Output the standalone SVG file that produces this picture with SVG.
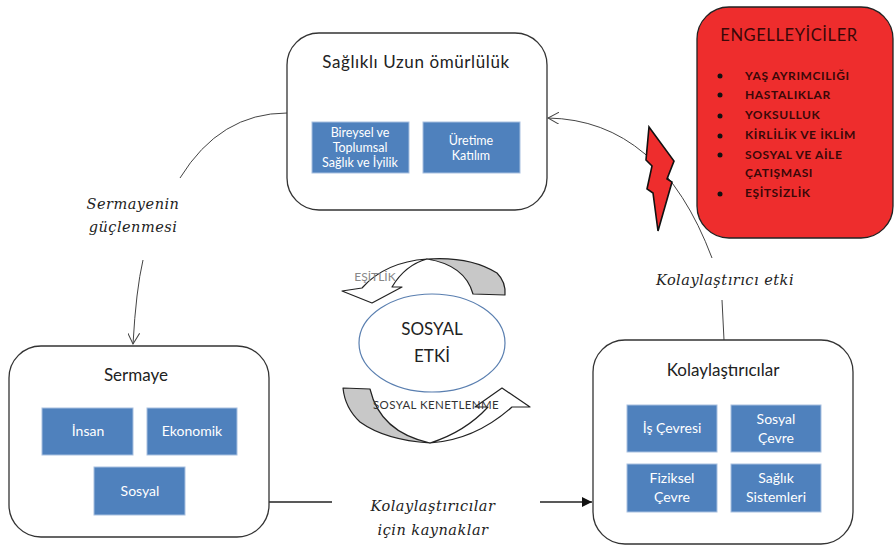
<svg xmlns="http://www.w3.org/2000/svg" width="895" height="547" viewBox="0 0 895 547">
<defs>
<style>
.big{fill:#fff;stroke:#333;stroke-width:1.3}
.blue{fill:#4F81BD;stroke:#a8c0e0;stroke-width:1}
.title{font-family:Lato,"Open Sans",sans-serif;font-size:17px;fill:#222;text-anchor:middle}
.bt{font-family:Lato,"Open Sans",sans-serif;font-size:14px;fill:#fff;text-anchor:middle}
.bts{font-family:Lato,"Open Sans",sans-serif;font-size:12.5px;fill:#fff;text-anchor:middle}
.lbl{font-family:"DejaVu Serif","Liberation Serif",serif;font-style:italic;font-size:14.5px;fill:#222;text-anchor:middle}
.conn{fill:none;stroke:#444;stroke-width:1}
.item{font-family:Lato,"Open Sans",sans-serif;font-weight:bold;font-size:12px;letter-spacing:0.6px;fill:#3a0808}
.arr{stroke:#222;stroke-width:1.2;stroke-linejoin:round}
</style>
<marker id="open" viewBox="0 0 12 12" refX="11" refY="6" markerWidth="12" markerHeight="12" markerUnits="userSpaceOnUse" orient="auto">
<path d="M0,0 L11,6 L0,12" fill="none" stroke="#444" stroke-width="1"/>
</marker>
<marker id="solid" viewBox="0 0 10 10" refX="10" refY="5" markerWidth="10" markerHeight="10" markerUnits="userSpaceOnUse" orient="auto">
<path d="M0,0 L10,5 L0,10 Z" fill="#111"/>
</marker>
</defs>
<rect width="895" height="547" fill="#fff"/>

<g id="connectors">
<path class="conn" d="M287,113 Q220,113 180,178"/>
<path class="conn" d="M143,260 Q136,290 133,344" marker-end="url(#open)"/>
<path class="conn" d="M712,258 Q660,120 548,118" marker-end="url(#open)"/>
<path class="conn" d="M724,340 L722,300"/>
<path d="M269,502 L332,502" stroke="#222" stroke-width="1.3"/>
<path d="M540,502 L592,502" stroke="#222" stroke-width="1.3" marker-end="url(#solid)"/>
</g>

<g id="label-sermayenin">
<text class="lbl" x="133" y="209" letter-spacing="0.5">Sermayenin</text>
<text class="lbl" x="133" y="232" letter-spacing="0.5">güçlenmesi</text>
</g>
<g id="label-kolay-etki">
<text class="lbl" x="725" y="285" letter-spacing="0.5">Kolaylaştırıcı etki</text>
</g>
<g id="label-kaynaklar">
<text class="lbl" x="433" y="511" letter-spacing="0.5">Kolaylaştırıcılar</text>
<text class="lbl" x="433" y="535" letter-spacing="0.5">için kaynaklar</text>
</g>

<g id="node-saglikli">
<rect class="big" x="287" y="33" width="260" height="177" rx="32"/>
<text class="title" x="416" y="68" letter-spacing="0.6">Sağlıklı Uzun ömürlülük</text>
<rect class="blue" x="312" y="122" width="97" height="51"/>
<text class="bts" x="360" y="137">Bireysel ve</text>
<text class="bts" x="360" y="152">Toplumsal</text>
<text class="bts" x="360" y="167">Sağlık ve İyilik</text>
<rect class="blue" x="423" y="122" width="97" height="51"/>
<text class="bts" x="471" y="145">Üretime</text>
<text class="bts" x="471" y="160">Katılım</text>
</g>

<g id="node-engelleyiciler">
<rect x="697" y="7" width="196" height="231" rx="32" fill="#EE2D2D" stroke="#222" stroke-width="1.3"/>
<text x="789" y="41" font-family="Lato,'Open Sans',sans-serif" font-size="16.5" fill="#3a0808" text-anchor="middle" letter-spacing="0.6">ENGELLEYİCİLER</text>
<g fill="#111">
<circle cx="720" cy="76" r="2.5"/><circle cx="720" cy="95" r="2.5"/><circle cx="720" cy="116" r="2.5"/>
<circle cx="720" cy="136" r="2.5"/><circle cx="720" cy="155" r="2.5"/><circle cx="720" cy="194" r="2.5"/>
</g>
<text class="item" x="745" y="80">YAŞ AYRIMCILIĞI</text>
<text class="item" x="745" y="99">HASTALIKLAR</text>
<text class="item" x="745" y="119">YOKSULLUK</text>
<text class="item" x="745" y="139">KİRLİLİK VE İKLİM</text>
<text class="item" x="745" y="159">SOSYAL VE AİLE</text>
<text class="item" x="745" y="177">ÇATIŞMASI</text>
<text class="item" x="745" y="197">EŞİTSİZLİK</text>
</g>

<g id="lightning">
<path d="M649,127 L674,161 L667,179 L672,182 L658,231 L653,193 L647,189 L652,166 L646,160 Z" fill="#EE2D2D" stroke="#111" stroke-width="1.6" stroke-linejoin="miter"/>
</g>

<g id="node-sosyal-etki">
<ellipse cx="432" cy="343" rx="73" ry="49" fill="#fff" stroke="#5a7fb0" stroke-width="1.2"/>
<text class="title" x="432" y="335" font-size="16">SOSYAL</text>
<text class="title" x="432" y="362" font-size="16">ETKİ</text>
</g>

<g id="arrow-esitlik">
<path class="arr" fill="#c8c8c8" d="M427,259 Q470,256 497,273 Q506,282 505,295 L473,294 Q465,265 427,259 Z"/>
<path class="arr" fill="#fff" d="M427,259 Q385,262 362,288 L342,291 L372,303 L402,287 L392,287 Q405,265 427,259 Z"/>
<text x="375" y="281" font-family="Lato,'Open Sans',sans-serif" font-size="12" fill="#888" text-anchor="middle">EŞİTLİK</text>
</g>

<g id="arrow-kenetlenme">
<path class="arr" fill="#c8c8c8" d="M343,388 L370,389 Q380,432 430,443 Q385,440 360,422 Q345,408 343,388 Z"/>
<path class="arr" fill="#fff" d="M430,443 Q475,440 512,407 L530,407 L502,388 L475,407 L488,407 Q465,432 430,443 Z"/>
<text x="436" y="409" font-family="Lato,'Open Sans',sans-serif" font-size="11.5" letter-spacing="0.4" fill="#333" text-anchor="middle">SOSYAL KENETLENME</text>
</g>

<g id="node-sermaye">
<rect class="big" x="9" y="346" width="260" height="191" rx="32"/>
<text class="title" x="136" y="381">Sermaye</text>
<rect class="blue" x="42" y="408" width="91" height="47"/>
<text class="bt" x="88" y="436" font-size="15">İnsan</text>
<rect class="blue" x="147" y="408" width="90" height="47"/>
<text class="bt" x="192" y="436" font-size="15">Ekonomik</text>
<rect class="blue" x="94" y="467" width="91" height="48"/>
<text class="bt" x="140" y="496" font-size="15">Sosyal</text>
</g>

<g id="node-kolaylastiricilar">
<rect class="big" x="593" y="340" width="260" height="204" rx="32"/>
<text class="title" x="723" y="376">Kolaylaştırıcılar</text>
<rect class="blue" x="627" y="405" width="90" height="47"/>
<text class="bt" x="672" y="433">İş Çevresi</text>
<rect class="blue" x="731" y="405" width="90" height="47"/>
<text class="bt" x="776" y="424">Sosyal</text>
<text class="bt" x="776" y="443">Çevre</text>
<rect class="blue" x="627" y="464" width="90" height="48"/>
<text class="bt" x="672" y="483">Fiziksel</text>
<text class="bt" x="672" y="502">Çevre</text>
<rect class="blue" x="731" y="464" width="90" height="48"/>
<text class="bt" x="776" y="483">Sağlık</text>
<text class="bt" x="776" y="502">Sistemleri</text>
</g>
</svg>
